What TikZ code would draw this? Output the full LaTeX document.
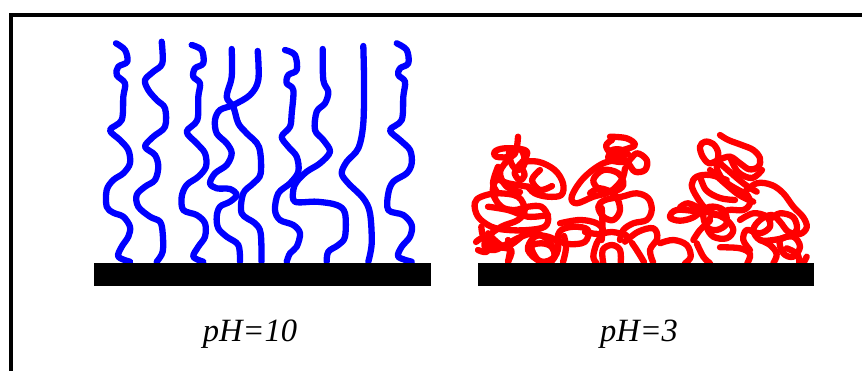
\documentclass[tikz,border=0pt]{standalone}
\usepackage{fontspec}
\setmainfont{Liberation Serif}
\begin{document}
\begin{tikzpicture}[x=1pt,y=-1pt,
  brush/.style={line width=6.3pt, line cap=round, line join=round},
  stretched/.style={brush, draw={rgb,255:red,0;green,0;blue,255}},
  coiled/.style={brush, draw={rgb,255:red,255;green,0;blue,0}},
  substrate/.style={draw=none, fill=black, minimum width=336.5pt, minimum height=23.3pt, inner sep=0pt},
  phlabel/.style={font=\fontsize{32.5}{32.5}\selectfont\itshape, inner sep=0pt, anchor=base}]
\useasboundingbox (0,0) rectangle (862,370);
\fill[white] (0,0) rectangle (862,370);

% frame (open on the right and bottom)
\draw[line width=3.4pt, line join=miter] (10.8,371) -- (10.8,15) -- (863,15);

% ---------- extended brushes, pH 10 ----------
\draw[stretched] plot[smooth, tension=0.55] coordinates {(116,43.3) (125,50) (127.3,61.7) (118.3,66.7) (116.7,75) (125,83.3) (123.3,96.7) (121.7,120) (110,130) (120,140) (128.3,150) (130,163.3) (123.3,173.3) (113.3,180) (106.7,190) (106.7,206.7) (113.3,212.7) (123.3,216.7) (130,226.7) (128.3,236.7) (121.7,246.7) (118.3,256.7) (130,261.7)};
\draw[stretched] plot[smooth, tension=0.55] coordinates {(161.7,41.7) (162.3,63.3) (153.3,71.7) (145,80) (148.3,90) (156.7,100) (165,108.3) (165,126.7) (153.3,136.7) (145,146.7) (155,155) (158.3,166.7) (155,180) (145,186.7) (136.7,195) (138.3,206.7) (150,216.7) (160,221.7) (162.7,233.3) (162.7,251.7) (156.7,261.7)};
\draw[stretched] plot[smooth, tension=0.55] coordinates {(191.7,45) (201.7,50) (203.3,63.3) (195,68.3) (193.3,76.7) (200,83.3) (198.3,96.7) (197.3,120) (186.7,131.7) (196.7,143.3) (205,153.3) (206,166.7) (198.3,176.7) (186.7,185) (181.7,196.7) (183.3,210) (196.7,215) (205,223.3) (205,236.7) (198.3,246.7) (193.3,256.7) (203.3,261.7)};
\draw[stretched] plot[smooth, tension=0.55] coordinates {(231.7,49) (231.7,76.7) (226.7,96.7) (233.3,106.7) (238.3,123.3) (246.7,133.3) (259,147) (260.7,173.3) (253.3,183.3) (243.3,193.3) (241.7,213.3) (255,223.3) (260.7,233.3) (261.5,261.7)};
\draw[stretched] plot[smooth, tension=0.55] coordinates {(257.7,51) (258.3,80) (250,95) (233.3,105) (220,110) (215,120) (216.7,133.3) (226.7,143.3) (231.7,153.3) (226.7,165) (215,173.3) (210,183.3) (216.7,188.3) (230,189) (236.7,195) (230,201.7) (220,206.7) (216.7,216.7) (218.3,228.3) (226.7,236.7) (238.3,245) (240,261.7)};
\draw[stretched] plot[smooth, tension=0.55] coordinates {(285,50) (295,55) (296.7,70) (288.3,75) (286.7,83.3) (293.3,90) (291.7,113.3) (290,126.7) (281.7,136.7) (288.3,146.7) (296.7,156.7) (298.3,171.7) (290,183.3) (278.3,193.3) (275,210) (280,220) (293.3,225) (300,233.3) (296.7,246.7) (290,253.3) (286.7,261.7)};
\draw[stretched] plot[smooth, tension=0.55] coordinates {(322.7,49) (323.3,80) (328.3,91.7) (325,103.3) (316.7,111.7) (315,130) (323.3,140) (330,151.7) (320,163.3) (306.7,171.7) (296.7,181.7) (293.3,190) (295,201.7) (316.7,201.7) (336.7,205) (345,213.3) (345,236.7) (338.3,245) (328.3,251.7) (326.7,261.7)};
\draw[stretched] plot[smooth, tension=0.55] coordinates {(363.3,46) (364,80) (363.3,123.3) (358.3,148.3) (346.7,161.7) (341.7,173.3) (348.3,183.3) (363.3,198.3) (370,213.3) (371.7,243.3) (368.3,261.7)};
\draw[stretched] plot[smooth, tension=0.55] coordinates {(396.7,43.3) (406.7,50) (408.3,63.3) (400,68.3) (398.3,75) (405,81.7) (403.3,96.7) (401.7,120) (390,130) (400,140) (410,150) (411.7,163.3) (406.7,173.3) (393.3,181.7) (388.3,193.3) (388.3,210) (403.3,215) (411.7,225) (410,236.7) (401.7,246.7) (398.3,256.7) (411.7,261.7)};

% ---------- collapsed coils, pH 3 ----------
% first coil
\draw[coiled] plot[smooth, tension=0.6] coordinates {(518,136.7) (516.3,150) (511.3,156.7) (496.3,156.7) (494.7,151.7) (504.7,148.3) (524.7,150) (526.3,156.7) (518,166.7) (514.7,173.3) (519.7,180) (524.7,175) (521.3,163.3) (538,161.7) (554.7,170) (563,183.3) (561.3,195) (548,196.7) (534.7,193.3) (528,186.7)};
\draw[coiled] plot[smooth, tension=0.6] coordinates {(528,186.7) (508,183.3) (496.3,180) (493,193.3) (501.3,206.7) (514.7,210) (528,206.7) (541.3,206.7) (548,216.7) (544.7,226.7) (528,230) (508,230) (491.3,226.7) (478,216.7) (474.7,203.3) (481.3,196.7) (498,193.3) (518,196.7) (524.7,210) (518,220) (501.3,226.7) (488,236.7) (484.7,246.7) (494.7,250) (508,243.3) (521.3,236.7) (534.7,233.3) (548,240) (554.7,253.3) (551.3,261.7)};
\draw[coiled] plot[smooth, tension=0.6] coordinates {(481.3,226.7) (484.7,240) (498,246.7) (511.3,250) (508,261.7)};
\draw[coiled] plot[smooth cycle, tension=0.6] coordinates {(531.3,246.7) (541.3,243.3) (551.3,246.7) (554.7,256.7) (548,261.7) (538,260)};
\draw[coiled] plot[smooth cycle, tension=0.6] coordinates {(561.3,230) (574.7,226.7) (588,230) (584.7,242) (568,244) (558,239)};
\draw[coiled] plot[smooth, tension=0.6] coordinates {(508,160) (500,172) (506,186) (520,192)};
\draw[coiled] plot[smooth, tension=0.6] coordinates {(476,242) (483,238) (490,245) (486,252) (478,250)};
\draw[coiled] plot[smooth cycle, tension=0.6] coordinates {(509.7,150) (511.3,163.3) (518,170) (524.7,163.3) (521.3,150)};
\draw[coiled] plot[smooth, tension=0.6] coordinates {(498,166.7) (493,183.3) (498,193.3)};
\draw[coiled] plot[smooth, tension=0.6] coordinates {(488,206.7) (508,210) (528,216.7) (548,215)};
\draw[coiled] plot[smooth, tension=0.6] coordinates {(488,233.3) (504.7,246.7) (521.3,236.7)};
\draw[coiled] plot[smooth cycle, tension=0.6] coordinates {(534.7,236.7) (528,250) (541.3,261.7) (554.7,256.7) (558,243.3) (548,236.7)};
\draw[coiled] plot[smooth, tension=0.6] coordinates {(508,240) (510,250) (508,261.7)};
\draw[coiled] plot[smooth, tension=0.6] coordinates {(540,170) (532,180) (540,190) (552,186)};

% second coil
\fill[red] (617,151) ellipse (10pt and 5pt);
\draw[coiled] plot[smooth, tension=0.6] coordinates {(610,136.7) (626.7,138.3) (635,145) (623.3,150) (610,153.3) (610,160) (626.7,161.7) (636.7,153.3) (646.7,160) (645,170) (635,171.7) (628.3,163.3) (623.3,160) (603.3,163.3) (583.3,178.3) (571.7,196.7) (576.7,203.3) (593.3,196.7) (610,191.7) (621.7,180) (625,168.3)};
\draw[coiled] plot[smooth, tension=0.6] coordinates {(590,193.3) (600,188.3) (615,195) (620,210) (613.3,220) (603.3,216.7) (598.3,206.7) (605,200) (621.7,196.7) (636.7,193.3) (648.3,198.3) (651.7,210) (646.7,220) (633.3,223.3) (623.3,230) (620,240)};
\draw[coiled] plot[smooth, tension=0.6] coordinates {(560,223.3) (580,220) (596.7,223.3) (603.3,231.7) (596.7,243.3) (593.3,256.7) (596.7,263.3)};
\draw[coiled] plot[smooth, tension=0.6] coordinates {(603.3,263.3) (602.7,250) (611.7,245) (620,250) (620.7,263.3)};
\draw[coiled] plot[smooth, tension=0.6] coordinates {(625,241.7) (638.3,231.7) (653.3,228.3) (657.3,238.3) (650,250) (653.3,262.7)};
\draw[coiled] plot[smooth, tension=0.6] coordinates {(632,243) (638,252) (644,262)};
\draw[coiled] plot[smooth, tension=0.6] coordinates {(564,236) (566,248) (563,262)};
\draw[coiled] plot[smooth cycle, tension=0.6] coordinates {(593.3,180) (603.3,170) (618.3,173.3) (623.3,185) (613.3,191.7) (600,190)};
\draw[coiled] plot[smooth, tension=0.6] coordinates {(601.7,208) (602.5,225) (601.7,240)};
\draw[coiled] plot[smooth, tension=0.6] coordinates {(585,232) (598,234) (612,232) (626,235)};
\draw[coiled] plot[smooth, tension=0.6] coordinates {(612,140) (606,146) (614,156) (628,154)};

% third coil
\draw[coiled] plot[smooth, tension=0.6] coordinates {(720,135) (728.3,140) (741.7,145) (753.3,150) (760,158.3) (758.3,166.7) (749.3,169.3) (740,163.3) (730,156.7) (718.3,160) (709.3,163.3) (702.7,156.7) (700,146.7) (705,141.7) (713.3,144) (718.3,153.3) (716.7,166.7) (720.7,176.7) (728.3,184) (738.3,190) (747.3,195) (750,203.3) (743.3,210) (728.3,210) (716.7,215) (706.7,210) (696.7,196.7) (691.7,185) (696.7,176.7) (710,175) (726.7,180)};
\draw[coiled] plot[smooth, tension=0.6] coordinates {(680,207.3) (688.3,203.3) (700,210) (693.3,217.3) (680,220.7) (670,217.3) (676.7,210) (700,211.7) (713.3,213.3) (726.7,220) (733.3,230) (726.7,238.3) (713.3,236.7) (706.7,226.7) (710,218.3)};
\draw[coiled] plot[smooth, tension=0.6] coordinates {(743.3,193.3) (756.7,183.3) (771.7,185) (783.3,193.3) (793.3,206.7) (803.3,217.3) (806.7,227.3) (800,234) (788.3,231.7) (780,221.7) (771.7,215) (760,220) (753.3,230) (760,240) (773.3,240) (786.7,236.7) (796.7,230) (793.3,217.3) (780,213.3) (770,219.3)};
\draw[coiled] plot[smooth, tension=0.6] coordinates {(660,243.3) (673.3,240) (686.7,245) (690.7,256.7) (685,263.3)};
\draw[coiled] plot[smooth, tension=0.6] coordinates {(696.7,243.3) (703.3,256.7) (710,263.3)};
\draw[coiled] plot[smooth, tension=0.6] coordinates {(720,247.3) (740,248.3) (750,254) (747.3,263.3)};
\draw[coiled] plot[smooth, tension=0.6] coordinates {(760,240) (770,245) (776.7,254) (773.3,263.3)};
\draw[coiled] plot[smooth, tension=0.6] coordinates {(786.7,248.3) (797.3,254) (799.3,263.3)};
\draw[coiled] plot[smooth, tension=0.6] coordinates {(730,156.7) (738,172) (752,178) (762,170)};
\draw[coiled] plot[smooth, tension=0.6] coordinates {(710,170) (736.7,193.3) (753.3,201.7)};
\draw[coiled] plot[smooth, tension=0.6] coordinates {(720,163.3) (743.3,183.3) (756.7,191.7)};
\draw[coiled] plot[smooth cycle, tension=0.6] coordinates {(703.3,213.3) (710,206.7) (723.3,210) (726.7,223.3) (716.7,230) (706.7,226.7)};
\draw[coiled] plot[smooth, tension=0.6] coordinates {(740,220) (753.3,213.3) (766.7,216.7) (770,226.7) (760,233.3) (746.7,230) (743.3,240) (750,250)};
\draw[coiled] plot[smooth cycle, tension=0.6] coordinates {(780,240) (793.3,236.7) (800,246.7) (793.3,256.7) (783.3,253.3)};
\draw[coiled] plot[smooth, tension=0.6] coordinates {(693.3,240) (700,230) (710,220.7)};
\draw[coiled] plot[smooth, tension=0.6] coordinates {(806.7,256.7) (803.3,263.3)};
\draw[coiled] plot[smooth, tension=0.6] coordinates {(700,176) (706,190) (720,198) (735,200)};

% ---------- substrates and labels ----------
\node[substrate] (baseA) at (262.3,274.3) {};
\node[substrate] (baseB) at (646,274.3) {};
\node[phlabel] (labelA) at (250,341.7) {pH=10};
\node[phlabel] (labelB) at (639,341.7) {pH=3};
\end{tikzpicture}
\end{document}
